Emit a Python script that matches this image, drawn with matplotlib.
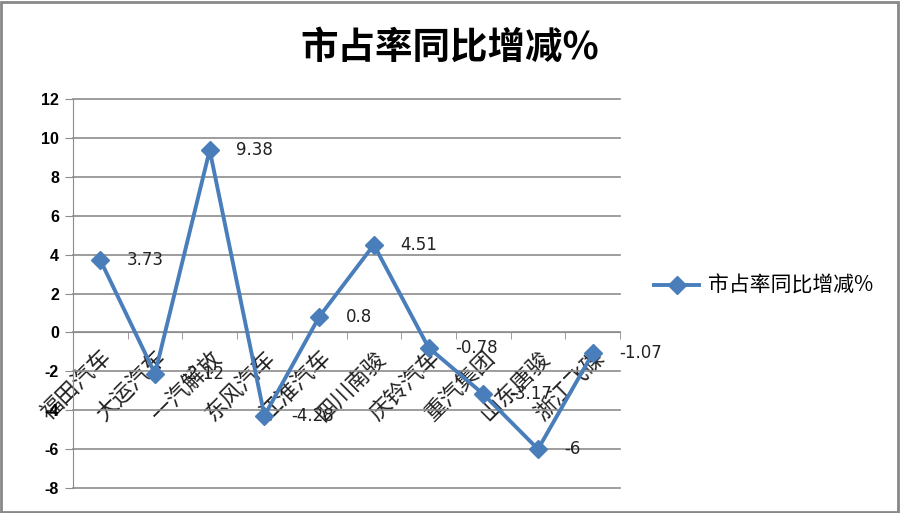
import numpy as np
import matplotlib
matplotlib.use("Agg")
import matplotlib.pyplot as plt
from matplotlib.patches import Rectangle

plt.rcParams['font.family'] = ['Noto Sans CJK SC', 'DejaVu Sans']

# data
brands = ["福田汽车", "大运汽车", "一汽解放", "东风汽车", "江淮汽车",
          "四川南骏", "庆铃汽车", "重汽集团", "山东唐骏", "浙江飞碟"]
change = [3.73, -2.12, 9.38, -4.28, 0.8, 4.51, -0.78, -3.17, -6, -1.07]
change_labels = ["3.73", "-2.12", "9.38", "-4.28", "0.8", "4.51",
                 "-0.78", "-3.17", "-6", "-1.07"]
yticks = [-8, -6, -4, -2, 0, 2, 4, 6, 8, 10, 12]
title = "市占率同比增减%"

blue = "#4A7EBB"

fig = plt.figure(figsize=(9, 5.13), dpi=100)
ax = fig.add_axes([0.081, 0.0487, 0.608, 0.758])

x = np.arange(len(brands))
ax.plot(x, change, color=blue, lw=2.8, marker='D', ms=9,
        label=title, zorder=3)

# data labels
for xi, v, s in zip(x, change, change_labels):
    ax.annotate(s, (xi, v), xytext=(19, 0), textcoords='offset points',
                ha='left', va='center', fontsize=12, color='#222222',
                family=['DejaVu Sans'], zorder=4)

ax.set_xlim(-0.5, len(brands) - 0.5)
ax.set_ylim(-8, 12)
ax.set_yticks(yticks)
ax.set_yticklabels([str(t) for t in yticks], fontsize=11.5,
                   family=['Liberation Sans'], fontweight='bold')
ax.yaxis.grid(True, color='#8c8c8c', lw=1.2)
for gl in ax.get_ygridlines():
    gl.set_clip_on(False)
ax.set_axisbelow(True)

# category axis crosses at 0
ax.spines['bottom'].set_position(('data', 0))
ax.spines['top'].set_visible(False)
ax.spines['right'].set_visible(False)
ax.spines['left'].set_color('#8c8c8c')
ax.spines['bottom'].set_color('#8c8c8c')
ax.set_xticks(x)
ax.set_xticklabels(brands, rotation=45, ha='right', va='top',
                   rotation_mode='anchor', fontsize=16, color='#222222')
ax.set_xticks(np.arange(len(brands) + 1) - 0.5, minor=True)
ax.tick_params(axis='x', which='major', length=0, pad=10)
ax.tick_params(axis='x', which='minor', length=5, color='#8c8c8c',
               direction='out')
ax.tick_params(axis='y', length=6, color='#8c8c8c', pad=4)

ax.legend(loc='center left', bbox_to_anchor=(1.027, 0.52), frameon=False,
          fontsize=15, handlelength=2.2, handletextpad=0.4)

fig.suptitle(title, x=0.5, y=0.945, fontsize=27, fontweight='bold')

fig.patches.append(Rectangle((0.001, 0.001), 0.997, 0.996, transform=fig.transFigure,
                             fill=False, edgecolor='#888888', lw=2))

fig.savefig("out.png", dpi=100)
